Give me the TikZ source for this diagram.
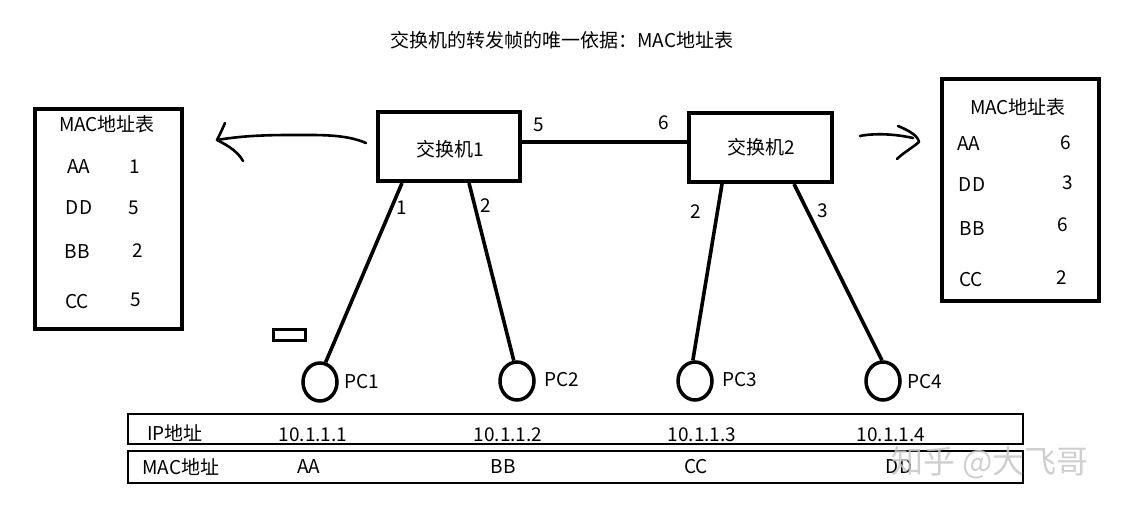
\documentclass[tikz,border=0pt]{standalone}
\usepackage{fontspec}
\setmainfont{Noto Sans CJK SC}
\usetikzlibrary{shapes.geometric}
\begin{document}
\begin{tikzpicture}[x=1pt,y=-1pt,
  txt/.style={inner sep=0pt, font=\fontsize{19}{21}\selectfont},
  switchbox/.style={draw, line width=4pt, inner sep=0pt},
  tablebox/.style={draw, line width=3.5pt, inner sep=0pt},
  rowbox/.style={draw, line width=1.4pt, inner sep=0pt, minimum width=895pt},
  pcnode/.style={draw, ellipse, line width=3.5pt, minimum width=34pt, minimum height=38pt, inner sep=0pt},
  link/.style={line width=3.6pt},
  handarrow/.style={line width=2.6pt, line cap=round, line join=round}
]
\useasboundingbox (0,0) rectangle (1123,511);

% title
\node[txt] (title) at (562,40) {交换机的转发帧的唯一依据：MAC地址表};

% switches
\node[switchbox, minimum width=142pt, minimum height=69pt] (sw1) at (449,146.5) {};
\node[txt] (sw1t) at (450,149) {交换机1};
\node[switchbox, minimum width=143pt, minimum height=69pt] (sw2) at (760.5,147.5) {};
\node[txt] (sw2t) at (761,147) {交换机2};
\draw[link] (sw1.east |- 0,142) -- (sw2.west |- 0,142);
\node[txt] (l5) at (539,125) {5};
\node[txt] (l6) at (664,123) {6};

% left MAC table
\node[tablebox, minimum width=147pt, minimum height=220pt] (ltab) at (108.5,219) {};
\node[txt] (lth) at (107,124) {MAC地址表};
\node[txt] (la1) at (79,167) {AA};  \node[txt] (lb1) at (135,167) {1};
\node[txt] (la2) at (79,208) {DD};  \node[txt] (lb2) at (134,208) {5};
\node[txt] (la3) at (77,252) {BB};  \node[txt] (lb3) at (137.5,251) {2};
\node[txt] (la4) at (77,302) {CC};  \node[txt] (lb4) at (136,300) {5};

% right MAC table
\node[tablebox, minimum width=157pt, minimum height=222pt] (rtab) at (1020.5,190) {};
\node[txt] (rth) at (1018,107) {MAC地址表};
\node[txt] (ra1) at (969,144) {AA};  \node[txt] (rb1) at (1066,143) {6};
\node[txt] (ra2) at (972,185) {DD};  \node[txt] (rb2) at (1068,183) {3};
\node[txt] (ra3) at (972,229) {BB};  \node[txt] (rb3) at (1063,225) {6};
\node[txt] (ra4) at (971,280) {CC};  \node[txt] (rb4) at (1062,278) {2};

% hand-drawn arrows
\coordinate (la0) at (366,143);
\coordinate (latip) at (217,140);
\draw[handarrow] (la0) .. controls (345,134) and (320,135) .. (290,135)
  .. controls (255,135) and (235,137) .. (latip);
\draw[handarrow] (225,123) .. controls (222,130) and (219,136) .. (latip)
  .. controls (229,146) and (238,152) .. (243,161);
\coordinate (ra0) at (860,136);
\coordinate (ratip) at (919,142);
\draw[handarrow] (ra0) .. controls (875,133) and (895,134) .. (913,138);
\draw[handarrow] (898,126) .. controls (910,131) and (918,136) .. (ratip)
  .. controls (912,148) and (903,153) .. (897,159);

% PCs
\node[pcnode] (pc1) at (320,382) {};
\node[pcnode] (pc2) at (517,381) {};
\node[pcnode] (pc3) at (695,381) {};
\node[pcnode] (pc4) at (883,381) {};
\node[txt] (pc1t) at (362,382) {PC1};
\node[txt] (pc2t) at (562,380) {PC2};
\node[txt] (pc3t) at (740,380) {PC3};
\node[txt] (pc4t) at (925,382) {PC4};

% links to PCs
\coordinate (s1p1) at (402,183);
\coordinate (s1p2) at (469,183);
\coordinate (s2p2) at (722,184);
\coordinate (s2p3) at (794,184);
\draw[link] (s1p1) -- (pc1.74);
\draw[link] (s1p2) -- (pc2.99);
\draw[link] (s2p2) -- (pc3.96);
\draw[link] (s2p3) -- (pc4.93);
\node[txt] (p1) at (402,208) {1};
\node[txt] (p2) at (486,206) {2};
\node[txt] (p3) at (696,212) {2};
\node[txt] (p4) at (823,211) {3};

% small rectangle
\draw[line width=3pt] (273.5,329.5) rectangle (305.5,340.5);

% bottom table
\node[rowbox, minimum height=30pt] (row1) at (575.5,429) {};
\node[rowbox, minimum height=32pt] (row2) at (575.5,467) {};
\node[txt] (ip) at (175,433) {IP地址};
\node[txt] (ip1) at (313,435) {10.1.1.1};
\node[txt] (ip2) at (508,435) {10.1.1.2};
\node[txt] (ip3) at (702,435) {10.1.1.3};
\node[txt] (ip4) at (891,435) {10.1.1.4};
\node[txt] (mac) at (181,467) {MAC地址};
\node[txt] (m1) at (309,467) {AA};
\node[txt] (m2) at (503,467) {BB};
\node[txt] (m3) at (696,467) {CC};
\node[txt] (m4) at (899,467) {DD};

% watermark
\node[inner sep=0pt, text=black!22, opacity=0.85, font=\fontsize{32}{34}\selectfont] (wm) at (990,463) {知乎 @大飞哥};
\end{tikzpicture}
\end{document}
